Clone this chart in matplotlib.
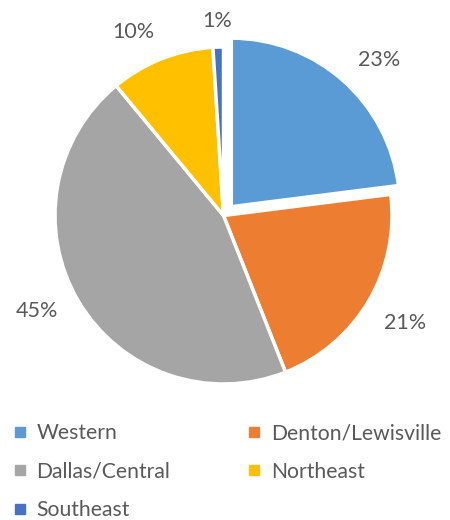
import matplotlib
matplotlib.use("Agg")
import numpy as np
import matplotlib.pyplot as plt
from matplotlib.lines import Line2D

categories = ["Western", "Denton/Lewisville", "Dallas/Central", "Northeast", "Southeast"]
values = [23, 21, 45, 10, 1]
colors = ["#5B9BD5", "#ED7D31", "#A5A5A5", "#FFC000", "#4472C4"]
explode_frac = [0.07, 0, 0, 0, 0]
# label placement (distance in radii, angular nudge in degrees) - styling only
label_dist = [1.306, 1.252, 1.243, 1.214, 1.155]
label_nudge = [-3.6, 0.0, -3.5, 4.7, 0.0]

plt.rcParams['font.family'] = ['Lato', 'DejaVu Sans']
text_color = "#595959"

fig = plt.figure(figsize=(4.5, 5.2), dpi=100)
ax = fig.add_axes([0, 0, 1, 1])

cx, cy, R = 223.5, 304.5, 168.5
wedges, texts, autotexts = ax.pie(
    values, colors=colors, explode=[e * R for e in explode_frac],
    startangle=90, counterclock=False,
    center=(cx, cy), radius=R,
    autopct=lambda p: f"{p:.0f}%", pctdistance=1.25,
    wedgeprops=dict(edgecolor="white", linewidth=2.5),
    textprops=dict(color=text_color, fontsize=15.5), frame=True)

for w, t, d, n in zip(wedges, autotexts, label_dist, label_nudge):
    th = np.deg2rad(0.5 * (w.theta1 + w.theta2) + n)
    t.set_position((cx + d * R * np.cos(th), cy + d * R * np.sin(th)))

ax.set_xlim(0, 450)
ax.set_ylim(0, 520)
ax.set_aspect('equal')
ax.axis('off')

handles = [Line2D([0], [0], marker='s', linestyle='', markersize=7,
                  markerfacecolor=c, markeredgecolor=c) for c in colors]
order = [0, 2, 4, 1, 3]
leg = ax.legend([handles[i] for i in order], [categories[i] for i in order],
                ncol=2, loc='upper left', bbox_to_anchor=(-0.018, 0.223),
                bbox_transform=fig.transFigure, frameon=False,
                fontsize=15.2, labelcolor=text_color, handlelength=0.84,
                handletextpad=0.37, columnspacing=3.55, labelspacing=0.88)

fig.savefig("out.png", dpi=100)
